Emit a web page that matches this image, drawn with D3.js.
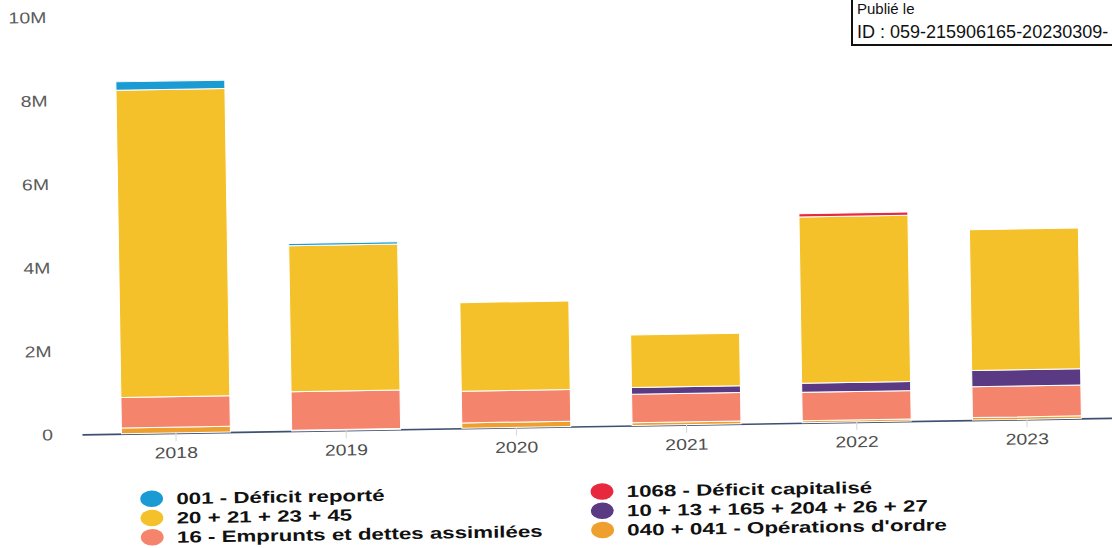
<!DOCTYPE html>
<html>
<head>
<meta charset="utf-8">
<script src="https://cdn.jsdelivr.net/npm/d3@7"></script>
<style>
  html, body { margin: 0; padding: 0; background: #fff; }
  svg { display: block; }
</style>
</head>
<body>
<svg id="chart" width="1112" height="548"></svg>
<script>
// Recettes d'investissement par exercice (en euros)
const years = ["2018", "2019", "2020", "2021", "2022", "2023"];
const deficitReporte   = [200000, 50000, 0, 0, 0, 0];               // 001
const deficitCapitalise = [0, 0, 0, 0, 80000, 0];                   // 1068
const comptes20        = [7360000, 3500000, 2120000, 1260000, 3980000, 3370000]; // 20 + 21 + 23 + 45
const comptes10        = [0, 0, 0, 160000, 220000, 390000];         // 10 + 13 + 165 + 204 + 26 + 27
const emprunts         = [730000, 920000, 760000, 680000, 680000, 740000];       // 16
const operationsOrdre  = [140000, 20000, 130000, 70000, 50000, 60000];           // 040 + 041
const yTicks = [0, 2e6, 4e6, 6e6, 8e6, 10e6];

const seriesLabels = {
  reporte: "001 - Déficit reporté",
  capitalise: "1068 - Déficit capitalisé",
  c20: "20 + 21 + 23 + 45",
  c10: "10 + 13 + 165 + 204 + 26 + 27",
  emprunts: "16 - Emprunts et dettes assimilées",
  ordre: "040 + 041 - Opérations d'ordre"
};
const colors = {
  reporte: "#1b9bd3",
  capitalise: "#e8283f",
  c20: "#f5c12b",
  c10: "#5b3a84",
  emprunts: "#f5846d",
  ordre: "#ee9f2e"
};

// stacking order, bottom to top
const stackKeys = ["ordre", "emprunts", "c10", "c20", "capitalise", "reporte"];
const rows = years.map((yr, i) => ({
  year: yr,
  reporte: deficitReporte[i],
  capitalise: deficitCapitalise[i],
  c20: comptes20[i],
  c10: comptes10[i],
  emprunts: emprunts[i],
  ordre: operationsOrdre[i]
}));

const W = 1112, H = 548;
const svg = d3.select("#chart");
svg.append("rect").attr("width", W).attr("height", H).attr("fill", "#fff");

// the printed page sits slightly askew
const g = svg.append("g").attr("transform", "rotate(-0.92,170,433)");

const x = d3.scaleBand().domain(years).range([82, 1121])
  .paddingInner(0.36).paddingOuter(0.232);
const y = d3.scaleLinear().domain([0, 10e6]).range([433, 15.5]);

const axisFont = "'Liberation Sans', Arial, sans-serif";

// y axis: labels only
const yAxis = g.append("g").attr("transform", "translate(53,0)")
  .call(d3.axisLeft(y).tickValues(yTicks).tickFormat(d3.format("~s")).tickSize(0).tickPadding(0));
yAxis.select(".domain").remove();
yAxis.selectAll("text")
  .attr("font-family", axisFont).attr("font-size", 15.8)
  .attr("fill", "#5a5a5a").attr("transform", "scale(1.23,1)");

// x axis
const xAxis = g.append("g").attr("transform", "translate(0,433)")
  .call(d3.axisBottom(x).tickSize(8).tickSizeOuter(0).tickPadding(6));
xAxis.select(".domain").attr("stroke", "#3e4f70").attr("stroke-width", 1.6);
xAxis.selectAll(".tick line").attr("stroke", "#d6d6d6");
xAxis.selectAll("text")
  .attr("font-family", axisFont).attr("font-size", 15.8)
  .attr("fill", "#4e4e4e").attr("transform", "scale(1.23,1)");

// stacked bars
const stacked = d3.stack().keys(stackKeys)(rows);
g.append("g").selectAll("g").data(stacked).join("g")
  .attr("fill", d => colors[d.key])
  .selectAll("rect").data(d => d.filter(p => p[1] - p[0] > 0)).join("rect")
  .attr("x", d => x(d.data.year))
  .attr("width", x.bandwidth())
  .attr("y", d => y(d[1]))
  .attr("height", d => y(d[0]) - y(d[1]))
  .attr("stroke", "#fff").attr("stroke-width", 1);

// legend, two columns
const legendOrder = [["reporte", "c20", "emprunts"], ["capitalise", "c10", "ordre"]];
const colX = [150.6, 601];
const rowY = [498.4, 517.7, 537];
const legend = g.append("g");
legendOrder.forEach((col, ci) => {
  col.forEach((key, ri) => {
    const item = legend.append("g")
      .attr("transform", `translate(${colX[ci]},${rowY[ri]}) scale(1.37,1)`);
    item.append("circle").attr("r", 8.3).attr("fill", colors[key]);
    item.append("text").attr("x", 18).attr("dy", "0.36em")
      .attr("font-family", axisFont).attr("font-weight", "bold").attr("font-size", 16.3)
      .attr("fill", "#111").text(seriesLabels[key]);
  });
});

// registration stamp, upper right
const stamp = svg.append("g");
stamp.append("path").attr("d", "M852,-2V45H1114")
  .attr("fill", "none").attr("stroke", "#111").attr("stroke-width", 2);
stamp.append("text").attr("x", 857).attr("y", 14)
  .attr("font-family", axisFont).attr("font-size", 15).attr("fill", "#111")
  .text("Publié le");
stamp.append("text").attr("x", 857).attr("y", 37.5)
  .attr("font-family", axisFont).attr("font-size", 18).attr("fill", "#111")
  .text("ID : 059-215906165-20230309-");
</script>
</body>
</html>
